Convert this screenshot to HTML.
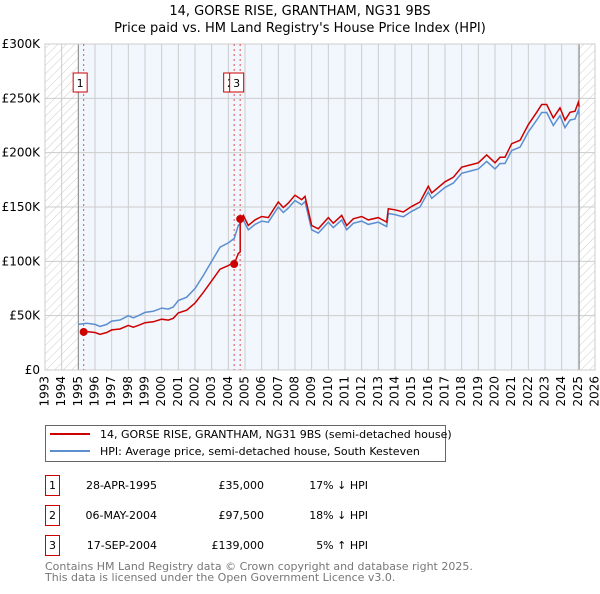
<!DOCTYPE html>
<html><head><meta charset="utf-8"><style>
body{margin:0;background:#fff;width:600px;height:590px;overflow:hidden;font-family:"DejaVu Sans","Liberation Sans",sans-serif}
text{font-family:"DejaVu Sans","Liberation Sans",sans-serif}
</style></head><body>
<svg id="chart" width="600" height="590" xmlns="http://www.w3.org/2000/svg">
<defs><pattern id="hatch" width="6" height="6" patternUnits="userSpaceOnUse" patternTransform="rotate(45)"><line x1="0" y1="0" x2="0" y2="6" stroke="#ccc" stroke-width="1"/></pattern></defs>
<text x="300" y="15" text-anchor="middle" font-size="13">14, GORSE RISE, GRANTHAM, NG31 9BS</text>
<text x="300" y="32" text-anchor="middle" font-size="13">Price paid vs. HM Land Registry's House Price Index (HPI)</text>
<g id="plot"></g>
<g>
<rect x="45.5" y="425.5" width="400" height="36" fill="#fff" stroke="#666"/>
<line x1="50" y1="434" x2="90" y2="434" stroke="#cc0000" stroke-width="2"/>
<text x="100" y="438" font-size="11">14, GORSE RISE, GRANTHAM, NG31 9BS (semi-detached house)</text>
<line x1="50" y1="451" x2="90" y2="451" stroke="#5b8fd0" stroke-width="2"/>
<text x="100" y="455" font-size="11">HPI: Average price, semi-detached house, South Kesteven</text>
</g>
<g id="table" font-size="11"></g>
<text x="45" y="570" font-size="11" fill="#777">Contains HM Land Registry data © Crown copyright and database right 2025.</text>
<text x="45" y="581" font-size="11" fill="#777">This data is licensed under the Open Government Licence v3.0.</text>
</svg>
<script>
const years=[1993,1994,1995,1996,1997,1998,1999,2000,2001,2002,2003,2004,2005,2006,2007,2008,2009,2010,2011,2012,2013,2014,2015,2016,2017,2018,2019,2020,2021,2022,2023,2024,2025,2026];
const yTicks=[0,50,100,150,200,250,300];
const yTickLabels=["£0","£50K","£100K","£150K","£200K","£250K","£300K"];
const hpiT=[1995.0,1995.5,1996.0,1996.3,1996.7,1997.0,1997.5,1998.0,1998.3,1998.6,1999.0,1999.5,2000.0,2000.4,2000.7,2001.0,2001.5,2002.0,2002.5,2003.0,2003.5,2004.0,2004.35,2004.6,2004.9,2005.2,2005.6,2006.0,2006.4,2007.0,2007.3,2007.6,2008.0,2008.4,2008.6,2009.0,2009.4,2010.0,2010.3,2010.8,2011.1,2011.5,2012.0,2012.4,2013.0,2013.5,2013.6,2014.0,2014.5,2015.0,2015.5,2016.0,2016.2,2017.0,2017.5,2018.0,2018.5,2019.0,2019.5,2020.0,2020.3,2020.6,2021.0,2021.5,2022.0,2022.5,2022.8,2023.1,2023.5,2023.9,2024.2,2024.5,2024.8,2025.0,2025.05];
const hpiV=[42,43,42,40,42,45,46,50,48,50,53,54,57,56,58,64,67,75,87,100,113,117,121,133,138,129,134,137,136,150,145,149,156,152,155,129,126,136,131,138,129,135,137,134,136,132,144,143,141,146,150,164,158,168,172,181,183,185,192,185,190,190,202,205,219,230,237,237,225,234,223,230,231,239,235];
const saleT=[1995.32,2004.35,2004.71];
const saleV=[35,97.5,139];
const saleLabels=["1","2","3"];
const saleDates=["28-APR-1995","06-MAY-2004","17-SEP-2004"];
const salePrices=["£35,000","£97,500","£139,000"];
const saleHpi=["17% ↓ HPI","18% ↓ HPI","5% ↑ HPI"];

const NS="http://www.w3.org/2000/svg";
const X0=45,X1=595,Y0=370,Y1=44;
const xs=t=>X0+(t-1993)/(2026-1993)*(X1-X0);
const ys=v=>Y0-v/300*(Y0-Y1);
function mk(tag,attrs,parent){const e=document.createElementNS(NS,tag);for(const k in attrs)e.setAttribute(k,attrs[k]);parent.appendChild(e);return e;}
function hpiAt(t){for(let i=0;i<hpiT.length-1;i++){if(t<=hpiT[i+1]){const f=(t-hpiT[i])/(hpiT[i+1]-hpiT[i]);return hpiV[i]+f*(hpiV[i+1]-hpiV[i]);}}return hpiV[hpiV.length-1];}
const plot=document.getElementById('plot');
let r=mk('rect',{x:X0,y:Y1,width:X1-X0,height:Y0-Y1,fill:'#f2f6fd'},plot);


const hs=xs(hpiT[0]),he=xs(hpiT[hpiT.length-1]);
r=mk('rect',{x:X0,y:Y1,width:hs-X0,height:Y0-Y1,fill:'#fff'},plot);
r=mk('rect',{x:X0,y:Y1,width:hs-X0,height:Y0-Y1,fill:'url(#hatch)'},plot);


r=mk('rect',{x:he,y:Y1,width:X1-he,height:Y0-Y1,fill:'#fff'},plot);
r=mk('rect',{x:he,y:Y1,width:X1-he,height:Y0-Y1,fill:'url(#hatch)'},plot);


years.forEach(y=>{const x=xs(y);
 let l=mk('line',{x1:x,x2:x,y1:Y1,y2:Y0,stroke:'#ccc'},plot);
 
 
 let t=mk('text',{x:0,y:0,'font-size':12,'text-anchor':'end','dominant-baseline':'middle',transform:`translate(${x},376) rotate(-90)`},plot);
 t.textContent=y;
 
 
});
yTicks.forEach((v,i)=>{const y=ys(v);
 let l=mk('line',{x1:X0,x2:X1,y1:y,y2:y,stroke:'#ccc'},plot);
 
 
 let t=mk('text',{x:40,y:y+4,'font-size':12,'text-anchor':'end'},plot);
 t.textContent=yTickLabels[i];
 
 
});
mk('line',{x1:hs,x2:hs,y1:Y1,y2:Y0,stroke:'#888'},plot);
mk('line',{x1:he,x2:he,y1:Y1,y2:Y0,stroke:'#888'},plot);
mk('rect',{x:X0,y:Y1,width:X1-X0,height:Y0-Y1,fill:'none',stroke:'#ccc'},plot);
saleT.forEach((t,i)=>{const x=xs(t);
 let l=mk('line',{x1:x,x2:x,y1:Y1,y2:Y0,stroke:'#e05050','stroke-dasharray':'2,3'},plot);
 
 
});
let d=hpiT.map((t,i)=>(i?'L':'M')+xs(t).toFixed(1)+','+ys(hpiV[i]).toFixed(1)).join('');
let p=mk('path',{d:d,fill:'none',stroke:'#5b8fd0','stroke-width':1.5},plot);


let pts=[];
hpiT.forEach(t=>{if(t>=saleT[0])pts.push([t,null]);});
for(let j=0;j<saleT.length;j++){pts.push([saleT[j],'pre'+j]);pts.push([saleT[j],'at'+j]);}
pts.sort((a,b)=>a[0]-b[0]||((String(a[1]).startsWith('pre')?0:1)-(String(b[1]).startsWith('pre')?0:1)));
let d2='';let first=true;
pts.forEach(q=>{const t=q[0];let k=0;for(let j=0;j<saleT.length;j++)if(t>=saleT[j])k=j;
 let v;
 if(typeof q[1]==='string'&&q[1].startsWith('pre')){const j=+q[1].slice(3);if(j===0)return;v=saleV[j-1]*hpiAt(t)/hpiAt(saleT[j-1]);}
 else v=saleV[k]*hpiAt(t)/hpiAt(saleT[k]);
 d2+=(first?'M':'L')+xs(t).toFixed(1)+','+ys(v).toFixed(1);first=false;});
p=mk('path',{d:d2,fill:'none',stroke:'#cc0000','stroke-width':1.5},plot);


saleT.forEach((t,i)=>{
 let c=mk('circle',{cx:xs(t),cy:ys(saleV[i]),r:4,fill:'#cc0000'},plot);
 
 
});
saleT.forEach((t,i)=>{const x=xs(t)-3.5;
 let g=mk('g',{},plot);
 
 
 mk('rect',{x:x-7,y:73,width:14,height:19,fill:'#fff',stroke:'#cc0000'},g);
 let tx=mk('text',{x:x,y:87,'font-size':11,'text-anchor':'middle'},g);tx.textContent=saleLabels[i];
});
const tb=document.getElementById('table');
saleT.forEach((t,i)=>{const y=475+i*30;
 let g=mk('g',{},tb);
 
 
 mk('rect',{x:45.5,y:y+0.5,width:14,height:20,fill:'#fff',stroke:'#cc0000'},g);
 let a=mk('text',{x:52.5,y:y+14,'text-anchor':'middle'},g);a.textContent=saleLabels[i];
 a=mk('text',{x:157,y:y+14,'text-anchor':'end'},g);a.textContent=saleDates[i];
 a=mk('text',{x:264,y:y+14,'text-anchor':'end'},g);a.textContent=salePrices[i];
 a=mk('text',{x:368,y:y+14,'text-anchor':'end'},g);a.textContent=saleHpi[i];
});
</script>
</body></html>
